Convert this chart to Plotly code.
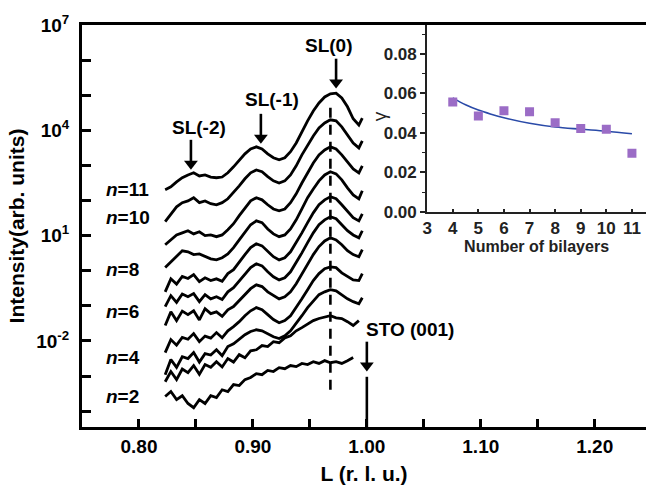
import plotly.graph_objects as go

# ---------------- main panel: stacked XRD scans around the STO (001) peak ----------------
L_grid = [0.823, 0.828, 0.833, 0.838, 0.843, 0.848, 0.853, 0.858, 0.863, 0.868,
          0.873, 0.878, 0.883, 0.888, 0.893, 0.898, 0.903, 0.908, 0.913, 0.918,
          0.923, 0.928, 0.933, 0.938, 0.943, 0.948, 0.953, 0.958, 0.963, 0.968,
          0.973, 0.978, 0.983, 0.988, 0.993, 0.996]

# log10(intensity) of each offset scan, bottom (thinnest) to top (thickest)
logI_01 = [-3.58, -3.44, -3.67, -3.56, -3.78, -3.90, -3.67, -3.78, -3.56, -3.61, -3.39, -3.44,
           -3.24, -3.27, -3.10, -3.04, -2.93, -2.96, -2.84, -2.87, -2.76, -2.79, -2.70, -2.73,
           -2.64, -2.67, -2.59, -2.64, -2.56, -2.62, -2.59, -2.64, -2.56, -2.47, None, None]
logI_02 = [-3.16, -2.87, -3.10, -2.80, -2.90, -2.70, -2.95, -2.67, -2.75, -2.59, -2.74, -2.50,
           -2.60, -2.39, -2.48, -2.28, -2.25, -2.13, -2.16, -2.02, -2.05, -1.91, -1.85, -1.71,
           -1.62, -1.51, -1.42, -1.36, -1.31, -1.28, -1.34, -1.36, -1.45, -1.56, -1.42, None]
logI_03 = [-2.96, -2.53, -2.75, -2.45, -2.50, -2.33, -2.60, -2.36, -2.40, -2.25, -2.42, -2.16,
           -2.08, -1.96, -1.82, -1.73, -1.68, -1.71, -1.79, -1.88, -1.93, -1.85, -1.71, -1.51,
           -1.28, -1.05, -0.85, -0.68, -0.60, -0.54, -0.57, -0.68, -0.80, -0.88, -0.94, -0.77]
logI_04 = [-2.33, -1.96, -2.12, -1.90, -1.95, -1.79, -2.02, -1.86, -1.92, -1.76, -1.91, -1.71,
           -1.59, -1.45, -1.28, -1.14, -1.05, -1.11, -1.25, -1.39, -1.48, -1.42, -1.28, -1.05,
           -0.80, -0.54, -0.28, -0.08, 0.06, 0.11, 0.09, -0.06, -0.17, -0.26, -0.28, -0.08]
logI_05 = [-1.56, -1.17, -1.42, -1.15, -1.25, -1.14, -1.40, -1.08, -1.22, -1.17, -1.30, -1.11,
           -1.02, -0.85, -0.68, -0.51, -0.40, -0.45, -0.60, -0.71, -0.80, -0.74, -0.60, -0.37,
           -0.08, 0.20, 0.46, 0.69, 0.85, 0.94, 0.88, 0.74, 0.57, 0.46, 0.40, 0.60]
logI_06 = [-1.02, -0.71, -0.90, -0.66, -0.74, -0.65, -0.88, -0.68, -0.80, -0.74, -0.82, -0.60,
           -0.48, -0.28, -0.08, 0.09, 0.20, 0.14, -0.03, -0.17, -0.26, -0.20, -0.03, 0.23,
           0.51, 0.80, 1.08, 1.31, 1.45, 1.54, 1.48, 1.31, 1.14, 1.02, 0.94, 1.14]
logI_07 = [-0.60, -0.23, -0.38, -0.16, -0.22, -0.11, -0.31, -0.20, -0.28, -0.23, -0.30, -0.08,
           0.03, 0.26, 0.46, 0.66, 0.77, 0.71, 0.54, 0.40, 0.31, 0.37, 0.54, 0.80,
           1.08, 1.37, 1.65, 1.88, 2.02, 2.11, 2.05, 1.88, 1.68, 1.51, 1.42, 1.62]
logI_08 = [0.09, 0.26, 0.43, 0.57, 0.54, 0.46, 0.48, 0.40, 0.34, 0.31, 0.37, 0.48,
           0.66, 0.88, 1.11, 1.31, 1.42, 1.37, 1.19, 1.05, 0.97, 1.02, 1.19, 1.45,
           1.76, 2.08, 2.33, 2.56, 2.73, 2.82, 2.76, 2.59, 2.36, 2.16, 2.05, 2.28]
logI_09 = [0.74, 0.88, 1.02, 1.08, 1.14, 1.05, 1.11, 1.00, 1.02, 0.97, 1.02, 1.17,
           1.34, 1.57, 1.79, 1.99, 2.08, 2.02, 1.88, 1.76, 1.71, 1.76, 1.94, 2.19,
           2.50, 2.79, 3.07, 3.30, 3.44, 3.53, 3.47, 3.30, 3.10, 2.90, 2.79, 2.99]
logI_10 = [1.40, 1.62, 1.82, 1.94, 1.99, 2.08, 1.94, 1.99, 1.91, 1.88, 1.94, 2.05,
           2.22, 2.42, 2.62, 2.79, 2.87, 2.82, 2.68, 2.56, 2.50, 2.56, 2.73, 2.99,
           3.30, 3.59, 3.84, 4.07, 4.21, 4.30, 4.27, 4.10, 3.87, 3.64, 3.50, 3.70]
logI_11 = [2.31, 2.39, 2.53, 2.65, 2.73, 2.79, 2.70, 2.73, 2.67, 2.65, 2.67, 2.79,
           2.96, 3.16, 3.33, 3.47, 3.53, 3.47, 3.33, 3.22, 3.16, 3.22, 3.39, 3.64,
           3.96, 4.27, 4.55, 4.78, 4.95, 5.04, 5.06, 4.92, 4.67, 4.33, 4.15, 4.35]

scans = [logI_01, logI_02, logI_03, logI_04, logI_05, logI_06,
         logI_07, logI_08, logI_09, logI_10, logI_11]

# reference lines: SL(0) position (dashed) and the substrate peak
SL0_L = 0.968
SL0_logI_span = [4.64, -3.58]
STO_L = 1.00
STO_logI_span = [-3.02, -4.6]

# peak markers: L position, log10 I at the arrow tail and at the head
arrow_L = [0.8456, 0.907, 0.973, 1.000]
arrow_tail = [3.73, 4.47, 6.04, -2.02]
arrow_head = [3.05, 3.79, 5.36, -2.70]

# axis ticks
x_label_vals = [0.80, 0.90, 1.00, 1.10, 1.20]
x_label_text = ["0.80", "0.90", "1.00", "1.10", "1.20"]
x_minor_vals = [0.85, 0.95, 1.05, 1.15]
y_label_exps = [-2, 1, 4, 7]
y_minor_exps = [-4, -3, -1, 0, 2, 3, 5, 6]

# ---------------- inset: roughness parameter vs number of bilayers ----------------
bilayers = [4, 5, 6, 7, 8, 9, 10, 11]
gamma = [0.0557, 0.0486, 0.0513, 0.0508, 0.0452, 0.0423, 0.0419, 0.0297]
fit_n = [4, 4.5, 5, 5.5, 6, 7, 8, 9, 10, 11]
fit_gamma = [0.0578, 0.0543, 0.0516, 0.0495, 0.0477, 0.0449, 0.0430, 0.0419, 0.0409, 0.0396]
inset_x_ticks = [3, 4, 5, 6, 7, 8, 9, 10, 11]
inset_y_ticks = [0.00, 0.02, 0.04, 0.06, 0.08]

FONT = "Arial, Liberation Sans, sans-serif"

fig = go.Figure()

for s in scans:
    fig.add_trace(go.Scatter(
        x=L_grid, y=[None if v is None else 10 ** v for v in s],
        mode="lines", line=dict(color="black", width=2.8),
        connectgaps=False, showlegend=False, hoverinfo="skip"))

fig.add_trace(go.Scatter(
    x=[SL0_L, SL0_L], y=[10 ** v for v in SL0_logI_span], mode="lines",
    line=dict(color="black", width=2.6, dash="10px,7px"), showlegend=False))
fig.add_trace(go.Scatter(
    x=[STO_L, STO_L], y=[10 ** v for v in STO_logI_span], mode="lines",
    line=dict(color="black", width=2.6), showlegend=False))

# downward arrows: a shaft plus a triangular head
for L, t, h in zip(arrow_L, arrow_tail, arrow_head):
    fig.add_trace(go.Scatter(
        x=[L, L], y=[10 ** t, 10 ** h], mode="lines",
        line=dict(color="black", width=2.6), showlegend=False, hoverinfo="skip"))
    fig.add_trace(go.Scatter(
        x=[L], y=[10 ** h], mode="markers",
        marker=dict(symbol="triangle-down", size=12, color="black", line=dict(width=0)),
        showlegend=False, hoverinfo="skip"))

# inset traces
fig.add_trace(go.Scatter(
    x=fit_n, y=fit_gamma, mode="lines", xaxis="x2", yaxis="y2",
    line=dict(color="#2a4aa8", width=1.6, shape="spline"), showlegend=False))
fig.add_trace(go.Scatter(
    x=bilayers, y=gamma, mode="markers", xaxis="x2", yaxis="y2",
    marker=dict(symbol="square", size=9, color="#9b6cc6", line=dict(width=0)),
    showlegend=False))

annotations = []
peak_labels = [("SL(-2)", 0.853, 4.07), ("SL(-1)", 0.917, 4.87),
               ("SL(0)", 0.967, 6.43), ("STO (001)", 1.038, -1.68)]
for txt, lx, ly in peak_labels:
    annotations.append(dict(
        x=lx, y=ly, xref="x", yref="y", text=txt, showarrow=False,
        font=dict(family=FONT, size=19, color="black", weight="bold")))

n_labels = [("11", 2.31), ("10", 1.51), ("8", 0.03), ("6", -1.17), ("4", -2.47), ("2", -3.58)]
for num, ly in n_labels:
    annotations.append(dict(
        x=0.7695, y=ly, xref="x", yref="y", xanchor="left",
        text="<i>n</i>=" + num, showarrow=False,
        font=dict(family=FONT, size=19, color="black", weight="bold")))

# inset y-axis title
annotations.append(dict(
    x=0.528, y=0.79, xref="paper", yref="paper", text="γ", textangle=-90,
    showarrow=False, font=dict(family=FONT, size=19, color="#222")))

fig.update_layout(
    width=646, height=488,
    margin=dict(l=82, r=0, t=25, b=61),
    paper_bgcolor="white", plot_bgcolor="white",
    font=dict(family=FONT, color="black"),
    annotations=annotations,
    xaxis=dict(
        range=[0.75, 1.245], showgrid=False, zeroline=False,
        showline=True, linewidth=3, linecolor="black", mirror=True,
        ticks="inside", ticklen=8, tickwidth=2.5, tickcolor="black",
        tickvals=x_label_vals, ticktext=x_label_text, ticklabelstandoff=0,
        minor=dict(tickvals=x_minor_vals, ticks="inside", ticklen=8,
                   tickwidth=2.5, tickcolor="black"),
        tickfont=dict(family=FONT, size=19, color="black", weight="bold"),
        title=dict(text="L (r. l. u.)", standoff=11,
                   font=dict(family=FONT, size=21, color="black", weight="bold"))),
    yaxis=dict(
        type="log", range=[-4.45, 7], showgrid=False, zeroline=False,
        showline=True, linewidth=3, linecolor="black",
        ticks="inside", ticklen=9, tickwidth=2.5, tickcolor="black",
        tickvals=[10 ** e for e in y_label_exps],
        ticktext=["10<sup>%d</sup>" % e for e in y_label_exps],
        ticklabelstandoff=6,
        minor=dict(tickvals=[10 ** e for e in y_minor_exps], ticks="inside",
                   ticklen=9, tickwidth=2.5, tickcolor="black"),
        tickfont=dict(family=FONT, size=19, color="black", weight="bold"),
        title=dict(text="Intensity(arb. units)", standoff=6,
                   font=dict(family=FONT, size=21, color="black", weight="bold"))),
    xaxis2=dict(
        domain=[0.612, 1.0], anchor="y2", range=[3, 11.55],
        showgrid=False, zeroline=False, showline=True, linewidth=2, linecolor="#222",
        ticks="inside", ticklen=3, tickwidth=1.5, tickcolor="#222",
        tickvals=inset_x_ticks,
        tickfont=dict(family=FONT, size=17, color="#222", weight="bold"),
        title=dict(text="Number of bilayers", standoff=0,
                   font=dict(family=FONT, size=16, color="#222", weight="bold"))),
    yaxis2=dict(
        domain=[0.535, 1.0], anchor="x2", range=[0, 0.0947],
        showgrid=False, zeroline=False, showline=True, linewidth=2, linecolor="#222",
        ticks="outside", ticklen=5, tickwidth=1.5, tickcolor="#222",
        tickvals=inset_y_ticks, ticktext=["%.2f" % v for v in inset_y_ticks],
        minor=dict(dtick=0.01, ticks="outside", ticklen=3, tickwidth=1.2, tickcolor="#222"),
        tickfont=dict(family=FONT, size=17, color="#222", weight="bold")),
)

fig.write_html("out.html")
